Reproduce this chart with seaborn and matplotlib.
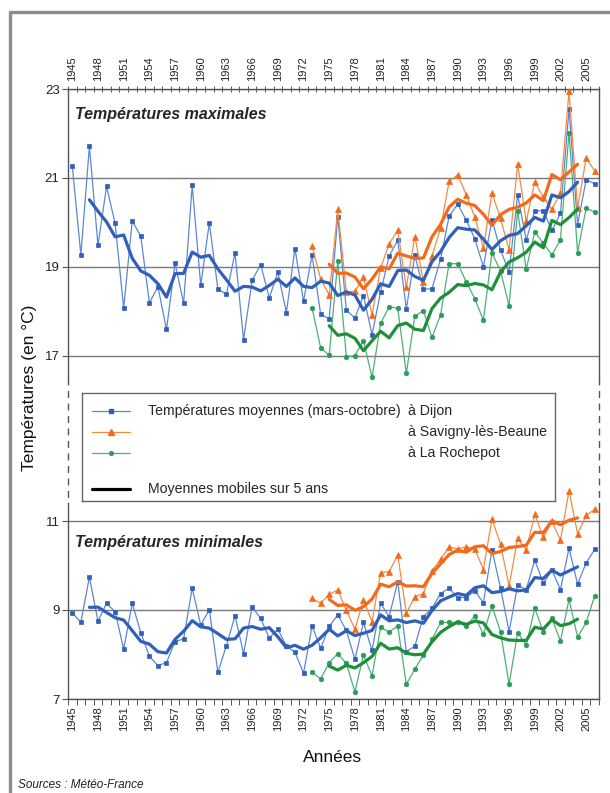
import numpy as np
import pandas as pd
import matplotlib
matplotlib.use("Agg")
import matplotlib.pyplot as plt
from matplotlib.lines import Line2D
from matplotlib.ticker import FixedLocator
import seaborn as sns

# ---- data -------------------------------------------------------------
years_dijon = list(range(1945, 2007))
years_sites = list(range(1973, 2007))

tmax_dijon = [
    21.27, 19.27, 21.71, 19.48, 20.81, 19.98, 18.07, 20.03, 19.69, 18.19,
    18.55, 17.59, 19.08, 18.18, 20.83, 18.58, 19.99, 18.50, 18.38, 19.31,
    17.36, 18.70, 19.05, 18.30, 18.88, 17.97, 19.41, 18.23, 19.26, 17.93,
    17.83, 20.13, 18.02, 17.85, 18.35, 17.47, 18.43, 19.24, 19.60, 18.05,
    19.26, 18.49, 18.51, 19.17, 20.14, 20.41, 20.05, 19.63, 19.00, 20.05,
    19.38, 18.88, 20.62, 19.60, 20.26, 20.26, 19.82, 20.20, 22.54, 19.95,
    20.96, 20.87,
]
tmax_savigny = [
    19.47, 18.72, 18.37, 20.29, 18.43, 18.45, 18.76, 17.92, 18.97, 19.52,
    19.82, 18.54, 19.68, 18.66, 19.24, 19.87, 20.92, 21.07, 20.62, 20.12,
    19.42, 20.66, 20.09, 19.38, 21.31, 20.02, 20.91, 20.56, 20.29, 20.67,
    22.95, 20.32, 21.44, 21.16,
]
tmax_rochepot = [
    18.07, 17.18, 17.01, 19.13, 16.98, 17.00, 17.34, 16.51, 17.73, 18.10,
    18.07, 16.60, 17.89, 18.01, 17.41, 17.92, 19.07, 19.07, 18.66, 18.28,
    17.80, 19.31, 18.91, 18.12, 20.26, 18.94, 19.79, 19.53, 19.27, 19.61,
    22.02, 19.32, 20.32, 20.23,
]
tmin_dijon = [
    8.94, 8.72, 9.74, 8.75, 9.15, 8.96, 8.12, 9.15, 8.49, 7.96,
    7.75, 7.82, 8.29, 8.35, 9.49, 8.66, 9.01, 7.60, 8.20, 8.87,
    8.02, 9.07, 8.81, 8.37, 8.57, 8.19, 8.05, 7.58, 8.64, 8.14,
    8.63, 8.89, 8.54, 7.89, 8.72, 8.09, 9.15, 8.85, 9.64, 8.06,
    8.19, 8.85, 9.04, 9.37, 9.49, 9.28, 9.28, 9.43, 9.16, 10.35,
    9.50, 8.51, 9.56, 9.46, 10.12, 9.60, 9.90, 9.46, 10.39, 9.58,
    10.06, 10.36,
]
tmin_savigny = [
    9.26, 9.15, 9.35, 9.45, 8.99, 8.57, 9.22, 8.74, 9.84, 9.86,
    10.24, 8.93, 9.30, 9.37, 9.88, 10.14, 10.42, 10.37, 10.42, 10.37,
    9.91, 11.04, 10.48, 9.54, 10.61, 10.35, 11.15, 10.63, 10.99, 10.57,
    11.68, 10.71, 11.13, 11.26,
]
tmin_rochepot = [
    7.60, 7.45, 7.82, 8.02, 7.80, 7.16, 7.99, 7.52, 8.61, 8.51,
    8.64, 7.33, 7.67, 7.99, 8.34, 8.72, 8.72, 8.72, 8.63, 8.87,
    8.45, 9.09, 8.51, 7.33, 8.49, 8.21, 9.04, 8.51, 8.81, 8.30,
    9.24, 8.39, 8.72, 9.32,
]
tick_years = list(range(1945, 2006, 3))

# ---- style ------------------------------------------------------------
sns.set_style("white")
plt.rcParams["font.family"] = ["Liberation Sans", "DejaVu Sans"]

STYLES = {
    "Dijon":    dict(raw="#5b87d6", mark="#2f5fb8", ma="#3060b8", marker="s", ms=3.5),
    "Savigny":  dict(raw="#f58a45", mark="#f26a1b", ma="#f26b1d", marker="^", ms=4.3),
    "Rochepot": dict(raw="#4fae79", mark="#2e9a5c", ma="#1f8f3a", marker="o", ms=3.3),
}
SPINE = "#555555"
GRID = "#7a7a7a"

W, H = 610, 793
fig = plt.figure(figsize=(W / 100, H / 100), dpi=100)


def fx(px):
    return px / W


def fy(py):
    return 1 - py / H


ax_top = fig.add_axes([fx(68), fy(440), fx(599) - fx(68), fy(89) - fy(440)])
ax_bot = fig.add_axes([fx(68), fy(699), fx(599) - fx(68), fy(440) - fy(699)])


def draw_series(ax, years, values, name):
    st = STYLES[name]
    s = pd.Series(values, index=years, dtype=float)
    sns.lineplot(x=s.index, y=s.values, ax=ax, color=st["raw"], lw=0.9,
                 marker=st["marker"], markersize=st["ms"], markerfacecolor=st["mark"],
                 markeredgecolor=st["mark"], markeredgewidth=0.5, zorder=3)
    ma = s.rolling(5, center=True).mean().dropna()
    sns.lineplot(x=ma.index, y=ma.values, ax=ax, color=st["ma"], lw=2.3, zorder=4)


for ax, d, sv, rc in [(ax_top, tmax_dijon, tmax_savigny, tmax_rochepot),
                      (ax_bot, tmin_dijon, tmin_savigny, tmin_rochepot)]:
    draw_series(ax, years_dijon, d, "Dijon")
    draw_series(ax, years_sites, sv, "Savigny")
    draw_series(ax, years_sites, rc, "Rochepot")
    ax.set_xlim(1944.5, 2006.5)
    ax.set_xlabel("")
    ax.set_ylabel("")
    ax.set_facecolor("none")
    ax.xaxis.set_major_locator(FixedLocator(tick_years))
    ax.xaxis.set_minor_locator(FixedLocator(np.arange(1944.5, 2007, 1)))
    ax.grid(axis="y", color=GRID, lw=1.0, zorder=1)
    ax.grid(axis="x", visible=False)
    for sp in ax.spines.values():
        sp.set_color(SPINE)
        sp.set_linewidth(1.0)
    ax.tick_params(axis="y", which="major", direction="out", length=4, width=0.8,
                   color=SPINE, labelsize=9.5, labelcolor="#222222", pad=2, left=True)

top_lim = (23 - (440 - 89) / 44.45, 23)
bot_lim = (7, 7 + (699 - 440) / 44.5)
ax_top.set_ylim(*top_lim)
ax_bot.set_ylim(*bot_lim)
ax_top.set_yticks([17, 19, 21, 23])
ax_bot.set_yticks([7, 9, 11])

# x axis: labels on top of the upper panel and under the lower one
ax_top.tick_params(axis="x", which="major", top=True, bottom=False, labeltop=True,
                   labelbottom=False, length=0, labelrotation=90, labelsize=8,
                   labelcolor="#222222", pad=6)
ax_top.tick_params(axis="x", which="minor", top=True, bottom=False, direction="inout",
                   length=5, width=0.7, color=SPINE)
ax_bot.tick_params(axis="x", which="major", bottom=True, top=False, labelbottom=True,
                   length=0, labelrotation=90, labelsize=8, labelcolor="#222222", pad=5)
ax_bot.tick_params(axis="x", which="minor", bottom=True, top=False, direction="out",
                   length=4, width=0.7, color=SPINE)

# broken vertical axis: solid near the data, dashed through the gap
TOP_BREAK, BOT_BREAK = 16.5, 11.4
ax_top.spines["bottom"].set_visible(False)
ax_bot.spines["top"].set_visible(False)
for side in ("left", "right"):
    ax_top.spines[side].set_bounds(TOP_BREAK, 23)
    ax_bot.spines[side].set_bounds(7, BOT_BREAK)

inv = fig.transFigure.inverted()
for xv in (1944.5, 2006.5):
    p1 = inv.transform(ax_top.transData.transform((xv, TOP_BREAK)))
    p2 = inv.transform(ax_bot.transData.transform((xv, BOT_BREAK)))
    fig.add_artist(Line2D([p1[0], p2[0]], [p1[1], p2[1]], transform=fig.transFigure,
                          color=SPINE, lw=1.0, linestyle=(0, (5, 4))))

# panel titles
ax_top.text(0.013, 0.926, "Températures maximales", transform=ax_top.transAxes,
            fontsize=11.5, fontweight="bold", fontstyle="italic", va="center", ha="left")
ax_bot.text(0.013, 0.606, "Températures minimales", transform=ax_bot.transAxes,
            fontsize=11.5, fontweight="bold", fontstyle="italic", va="center", ha="left")

# axis titles and source
fig.text(fx(30), fy(388), "Températures (en °C)", rotation=90, ha="center", va="center",
         fontsize=12.5, color="#111111")
fig.text(fx(333), fy(757), "Années", ha="center", va="center", fontsize=12.5, color="#111111")
fig.text(fx(18), fy(785), "Sources : Météo-France", ha="left", va="center", fontsize=8.5,
         fontstyle="italic", color="#222222")

# legend box
lx0, lx1, ly0, ly1 = 82, 555, 393, 501
leg = fig.add_axes([fx(lx0), fy(ly1), fx(lx1) - fx(lx0), fy(ly0) - fy(ly1)])
leg.set_xlim(0, lx1 - lx0)
leg.set_ylim(ly1 - ly0, 0)
leg.set_xticks([])
leg.set_yticks([])
leg.set_facecolor("white")
for sp in leg.spines.values():
    sp.set_color("#666666")
    sp.set_linewidth(1.0)
rows = [("Dijon", 18), ("Savigny", 39), ("Rochepot", 60)]
for name, yy in rows:
    st = STYLES[name]
    leg.plot([10, 48], [yy, yy], color=st["raw"], lw=0.9)
    leg.plot([29], [yy], marker=st["marker"], ms=st["ms"] - 0.6, color=st["mark"])
leg.plot([10, 48], [96, 96], color="black", lw=2.3)
leg.text(66, 18, "Températures moyennes (mars-octobre)", va="center", ha="left", fontsize=10.2)
leg.text(326, 18, "à Dijon", va="center", ha="left", fontsize=10.2)
leg.text(326, 39, "à Savigny-lès-Beaune", va="center", ha="left", fontsize=10.2)
leg.text(326, 60, "à La Rochepot", va="center", ha="left", fontsize=10.2)
leg.text(66, 96, "Moyennes mobiles sur 5 ans", va="center", ha="left", fontsize=10.2)

# outer frame on the left and top
fig.add_artist(Line2D([fx(10), fx(10)], [fy(793), fy(12)], transform=fig.transFigure,
                      color="#8c8c8c", lw=2.4))
fig.add_artist(Line2D([fx(10), fx(610)], [fy(12), fy(12)], transform=fig.transFigure,
                      color="#8c8c8c", lw=2.4))

fig.savefig("out.png", dpi=100, facecolor="white")
